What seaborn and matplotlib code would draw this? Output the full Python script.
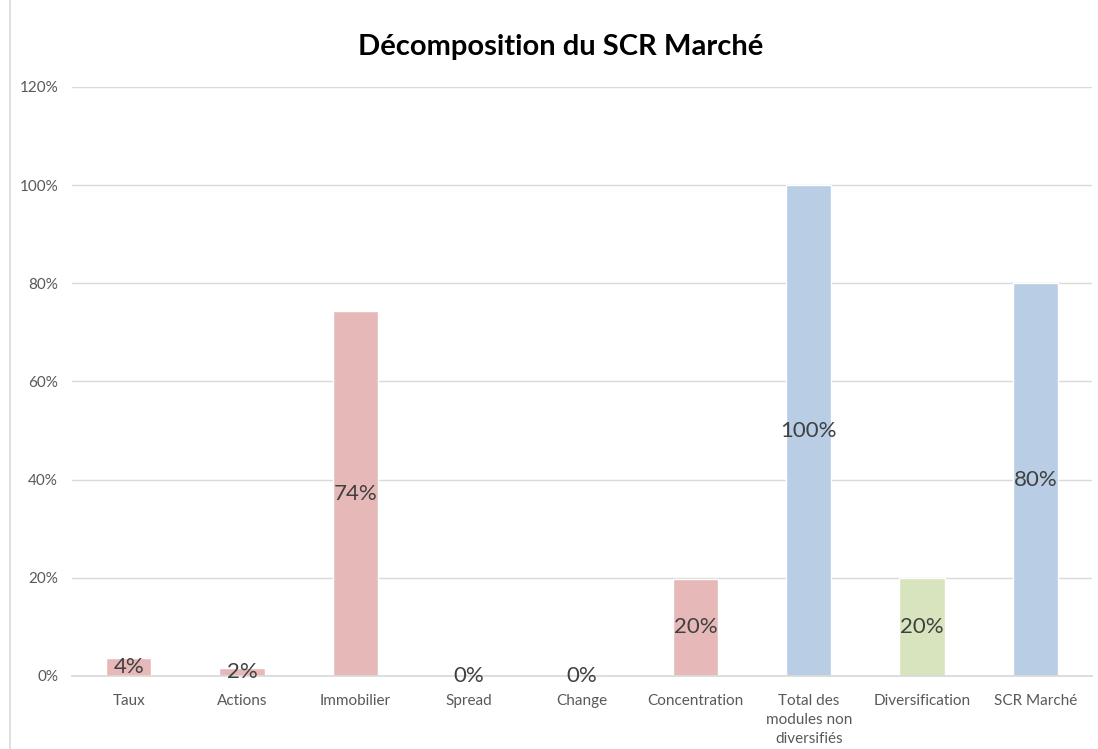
import matplotlib
matplotlib.use("Agg")
import matplotlib.pyplot as plt
import seaborn as sns
from matplotlib.ticker import PercentFormatter

# Data
categories = ["Taux", "Actions", "Immobilier", "Spread", "Change", "Concentration",
              "Total des\nmodules non\ndiversifiés", "Diversification", "SCR Marché"]
values = [3.7, 1.6, 74.3, 0.0, 0.0, 19.8, 100.0, 20.0, 80.0]
labels = ["4%", "2%", "74%", "0%", "0%", "20%", "100%", "20%", "80%"]
bar_colors = ["#E6B9B8"] * 6 + ["#B9CDE5", "#D7E4BD", "#B9CDE5"]

sns.set_theme(style="white")
plt.rcParams["font.family"] = ["Lato", "DejaVu Sans"]

fig = plt.figure(figsize=(10.98, 7.49), dpi=100)
ax = fig.add_axes([0.0656, 0.0975, 0.929, 0.7865])

sns.barplot(x=categories, y=values, hue=categories, palette=bar_colors,
            legend=False, width=0.4, saturation=1, ax=ax)

for cont, lab in zip(ax.containers, labels):
    ax.bar_label(cont, labels=[lab], label_type="center", fontsize=16, color="#404040")

ax.set_ylim(0, 120)
ax.set_yticks(range(0, 121, 20))
ax.yaxis.set_major_formatter(PercentFormatter(decimals=0))
ax.grid(axis="y", color="#D9D9D9", linewidth=1)
ax.set_axisbelow(True)
for s in ["top", "right", "left"]:
    ax.spines[s].set_visible(False)
ax.spines["bottom"].set_color("#D9D9D9")
ax.tick_params(axis="y", length=0, pad=10, labelsize=11, labelcolor="#595959")
ax.tick_params(axis="x", length=0, pad=13, labelsize=11, labelcolor="#595959")
for t in ax.get_xticklabels():
    t.set_linespacing(1.45)
ax.set_xlim(-0.5, len(categories) - 0.5)

fig.text(0.511, 0.937, "Décomposition du SCR Marché", ha="center", va="center",
         fontsize=21, fontweight="bold", color="black")

# light frame like the chart area border
fig.add_artist(plt.Line2D([0.009, 0.009], [0, 1], color="#D9D9D9", lw=1.2))

fig.savefig("out.png", dpi=100)
